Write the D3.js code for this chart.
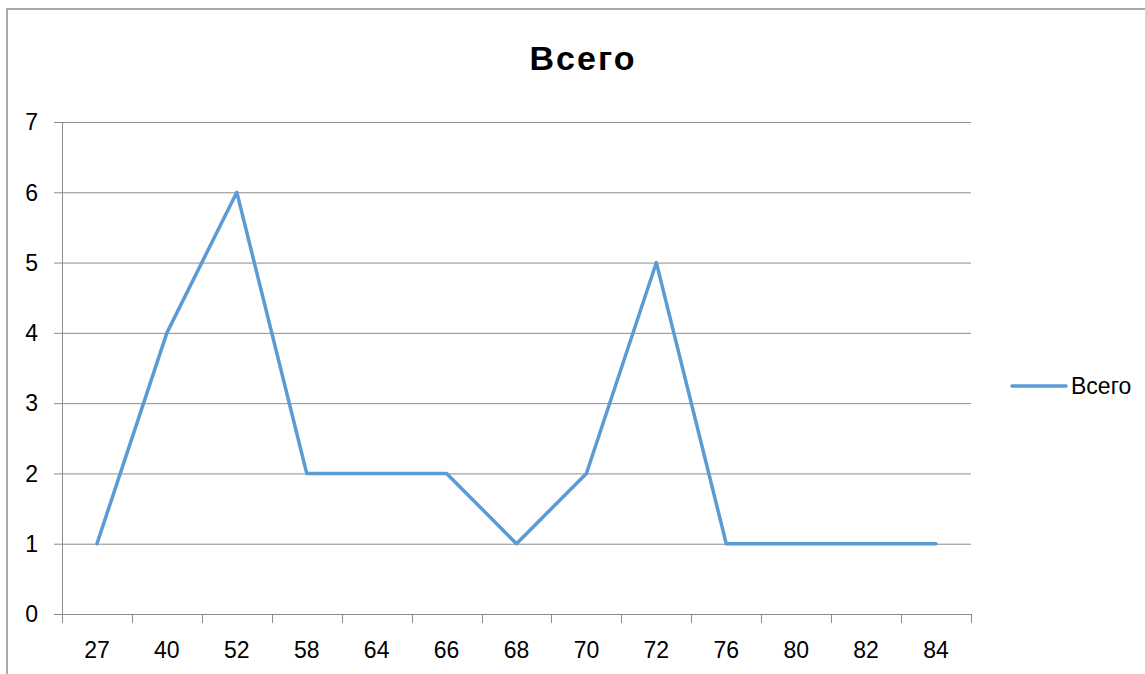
<!DOCTYPE html>
<html lang="ru">
<head>
<meta charset="UTF-8">
<title>Всего</title>
<script src="https://d3js.org/d3.v7.min.js"></script>
<style>
  body { margin: 0; background: #fff; }
  svg { font-family: "Liberation Sans", Arial, sans-serif; }
</style>
</head>
<body>
<div id="chart"></div>
<script>
// chart data
const categories = ["27", "40", "52", "58", "64", "66", "68", "70", "72", "76", "80", "82", "84"];
const values = [1, 4, 6, 2, 2, 2, 1, 2, 5, 1, 1, 1, 1];
const yTicks = [0, 1, 2, 3, 4, 5, 6, 7];
const seriesName = "Всего";

const W = 1145, H = 674;
const margin = { top: 122, right: 174, bottom: 60, left: 62 };
const width = W - margin.left - margin.right;
const height = H - margin.top - margin.bottom;

const svg = d3.select("#chart").append("svg")
    .attr("width", W)
    .attr("height", H);

// outer chart border (only top/left visible in the crop)
svg.append("path")
    .attr("d", `M7,${H} V9 H${W}`)
    .attr("fill", "none")
    .attr("stroke", "#8c8c8c")
    .attr("stroke-width", 1.5);

const g = svg.append("g")
    .attr("transform", `translate(${margin.left},${margin.top})`);

const x = d3.scaleBand().domain(categories).range([0, width]);
const y = d3.scaleLinear().domain([0, 7]).range([height, 0]);

// horizontal gridlines, extending slightly left of the axis
g.append("g")
    .selectAll("line")
    .data(yTicks)
    .join("line")
    .attr("x1", -8)
    .attr("x2", width)
    .attr("y1", d => y(d) + 0.5)
    .attr("y2", d => y(d) + 0.5)
    .attr("stroke", "#8c8c8c")
    .attr("stroke-width", 1);

// y labels
g.append("g")
    .selectAll("text")
    .data(yTicks)
    .join("text")
    .attr("x", -24)
    .attr("y", d => y(d))
    .attr("dy", "0.36em")
    .attr("text-anchor", "end")
    .attr("font-size", 23)
    .attr("fill", "#000")
    .text(d => d);

// y axis line
g.append("line")
    .attr("x1", 0.5).attr("x2", 0.5)
    .attr("y1", 0).attr("y2", height + 9)
    .attr("stroke", "#8c8c8c");

// x tick marks at band boundaries
const bounds = categories.map(c => x(c)).concat([width]);
g.append("g")
    .selectAll("line")
    .data(bounds)
    .join("line")
    .attr("x1", d => Math.round(d) + 0.5)
    .attr("x2", d => Math.round(d) + 0.5)
    .attr("y1", height)
    .attr("y2", height + 9)
    .attr("stroke", "#8c8c8c");

// x labels
g.append("g")
    .selectAll("text")
    .data(categories)
    .join("text")
    .attr("x", d => x(d) + x.bandwidth() / 2)
    .attr("y", height + 44)
    .attr("text-anchor", "middle")
    .attr("font-size", 23)
    .attr("fill", "#000")
    .text(d => d);

// the line
const line = d3.line()
    .x((d, i) => x(categories[i]) + x.bandwidth() / 2)
    .y(d => y(d));

g.append("path")
    .datum(values)
    .attr("d", line)
    .attr("fill", "none")
    .attr("stroke", "#5b9bd5")
    .attr("stroke-width", 3.5)
    .attr("stroke-linejoin", "round")
    .attr("stroke-linecap", "round");

// title
svg.append("text")
    .attr("x", 583)
    .attr("y", 70)
    .attr("text-anchor", "middle")
    .attr("font-size", 34)
    .attr("font-weight", "bold")
    .attr("letter-spacing", 2)
    .attr("fill", "#000")
    .text(seriesName);

// legend
const leg = svg.append("g").attr("transform", "translate(1012,386)");
leg.append("line")
    .attr("x1", 0).attr("x2", 54)
    .attr("y1", 0).attr("y2", 0)
    .attr("stroke", "#5b9bd5")
    .attr("stroke-width", 3.5)
    .attr("stroke-linecap", "round");
leg.append("text")
    .attr("x", 59)
    .attr("y", 0)
    .attr("dy", "0.36em")
    .attr("font-size", 23)
    .attr("fill", "#000")
    .text(seriesName);
</script>
</body>
</html>
